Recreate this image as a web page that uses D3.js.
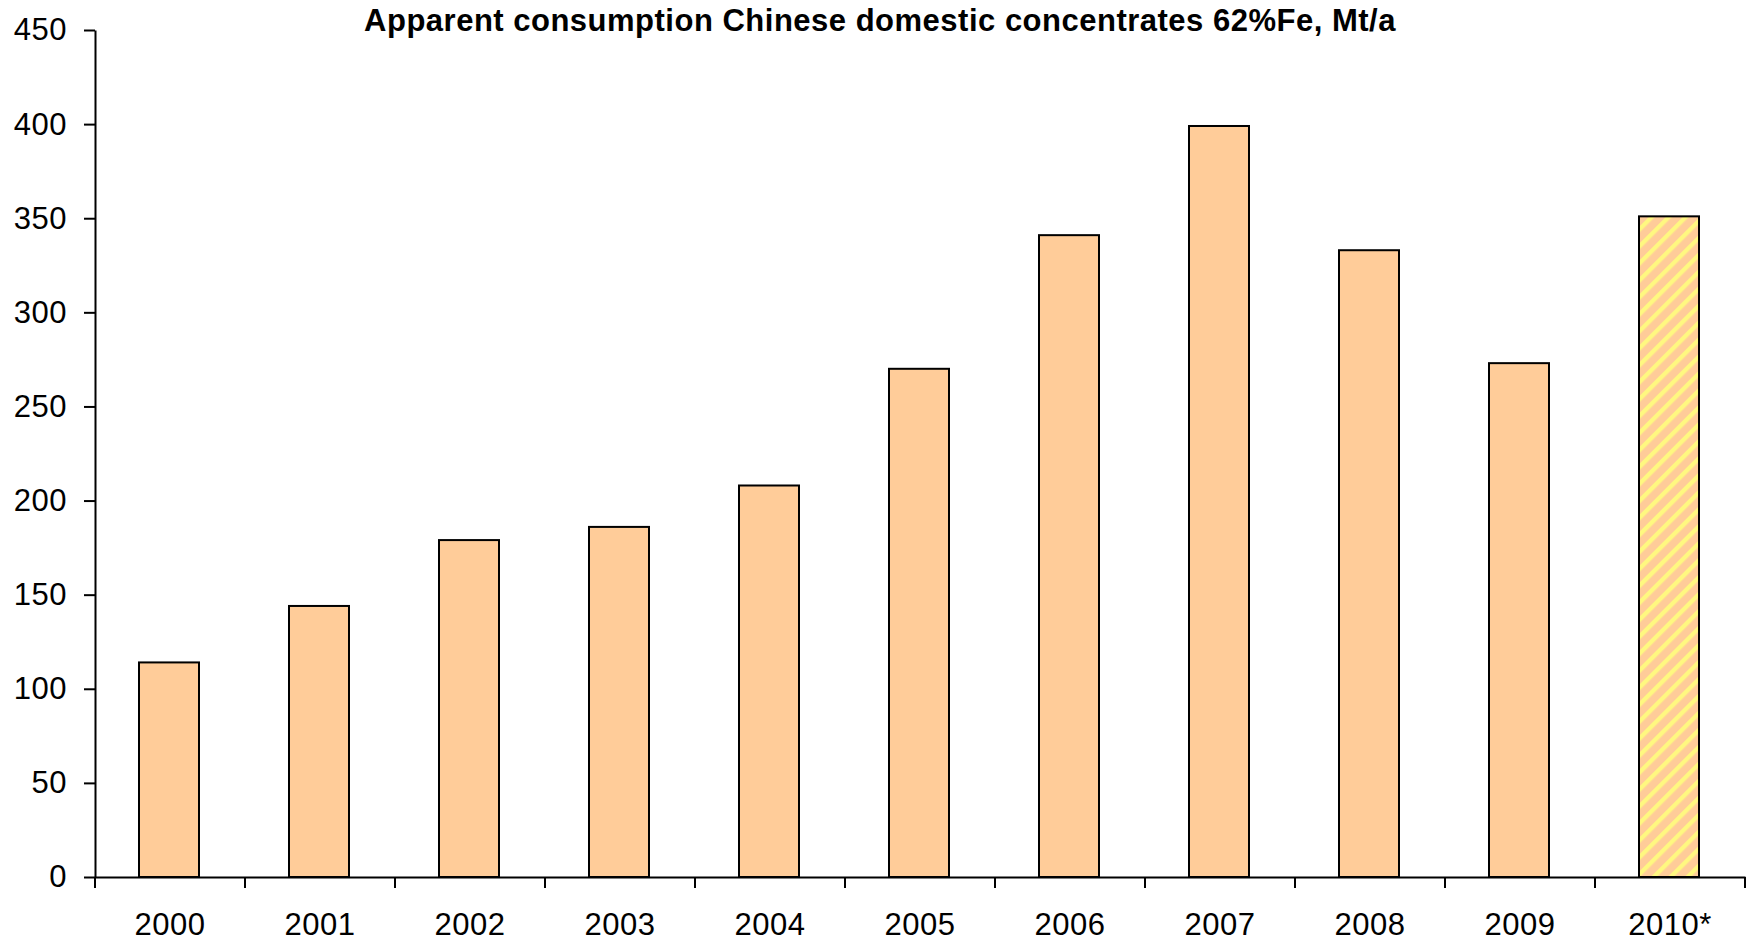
<!DOCTYPE html>
<html>
<head>
<meta charset="utf-8">
<script src="https://cdn.jsdelivr.net/npm/d3@7"></script>
<style>
  html, body { margin: 0; padding: 0; background: #ffffff; }
  svg { display: block; }
  text { font-family: "Liberation Sans", Arial, Helvetica, sans-serif; fill: #000; }
</style>
</head>
<body>
<svg id="chart" width="1749" height="941"></svg>
<script>
// Chart data
const years = ["2000", "2001", "2002", "2003", "2004", "2005", "2006", "2007", "2008", "2009", "2010*"];
const consumption = [114, 144, 179, 186, 208, 270, 341, 399, 333, 273, 351];
const estimatedYears = ["2010*"];
const yTickValues = [0, 50, 100, 150, 200, 250, 300, 350, 400, 450];
const chartTitle = "Apparent consumption Chinese domestic concentrates 62%Fe, Mt/a";

const W = 1749, H = 941;
const plot = { left: 95, right: 1745, top: 30, bottom: 877 };

const svg = d3.select("#chart");
svg.append("rect").attr("width", W).attr("height", H).attr("fill", "#ffffff");

// Diagonal hatch used for the estimated year
const defs = svg.append("defs");
const pat = defs.append("pattern")
  .attr("id", "hatch")
  .attr("patternUnits", "userSpaceOnUse")
  .attr("width", 12).attr("height", 12)
  .attr("patternTransform", "rotate(45)");
pat.append("rect").attr("width", 12).attr("height", 12).attr("fill", "#FFCC99");
pat.append("rect").attr("x", 0).attr("y", 0).attr("width", 4.4).attr("height", 12).attr("fill", "#FFF880");

const x = d3.scaleBand()
  .domain(years)
  .range([plot.left, plot.right])
  .paddingInner(0.6)
  .paddingOuter(0.3);

const y = d3.scaleLinear()
  .domain([0, 450])
  .range([plot.bottom, plot.top]);

const data = years.map((yr, i) => ({ year: yr, value: consumption[i], est: estimatedYears.includes(yr) }));

// Bars
svg.append("g")
  .attr("transform", "translate(-1,0)")
  .selectAll("rect")
  .data(data)
  .join("rect")
  .attr("x", d => x(d.year))
  .attr("y", d => y(d.value))
  .attr("width", x.bandwidth())
  .attr("height", d => y(0) - y(d.value))
  .attr("fill", d => d.est ? "url(#hatch)" : "#FFCC99")
  .attr("stroke", "#000")
  .attr("stroke-width", 2);

// Y axis
const yAxis = svg.append("g")
  .attr("transform", `translate(${plot.left},0)`)
  .call(d3.axisLeft(y).tickValues(yTickValues).tickSize(11).tickSizeOuter(0).tickPadding(17));
yAxis.select(".domain").attr("stroke", "#000").attr("stroke-width", 2);
yAxis.selectAll(".tick line").attr("stroke", "#000").attr("stroke-width", 2);
yAxis.selectAll(".tick text")
  .attr("font-size", 31)
  .attr("letter-spacing", "0.5px")
  .style("font-family", "'Liberation Sans', Arial, sans-serif");

// X axis: labels centred under bars, tick marks on category boundaries
const xAxis = svg.append("g")
  .attr("transform", `translate(0,${plot.bottom})`)
  .call(d3.axisBottom(x).tickSize(0).tickSizeOuter(0).tickPadding(36));
xAxis.select(".domain").attr("stroke", "#000").attr("stroke-width", 2);
xAxis.selectAll(".tick text")
  .attr("font-size", 31)
  .attr("letter-spacing", "0.5px")
  .style("font-family", "'Liberation Sans', Arial, sans-serif");

const boundaries = d3.range(years.length + 1).map(i => x.range()[0] + i * x.step());
xAxis.append("g")
  .selectAll("line")
  .data(boundaries)
  .join("line")
  .attr("x1", d => d).attr("x2", d => d)
  .attr("y1", 0).attr("y2", 11)
  .attr("stroke", "#000")
  .attr("stroke-width", 2);

// Title
svg.append("text")
  .attr("x", 880)
  .attr("y", 31)
  .attr("text-anchor", "middle")
  .attr("font-size", 31)
  .attr("font-weight", "bold")
  .attr("letter-spacing", "0.5px")
  .text(chartTitle);
</script>
</body>
</html>
